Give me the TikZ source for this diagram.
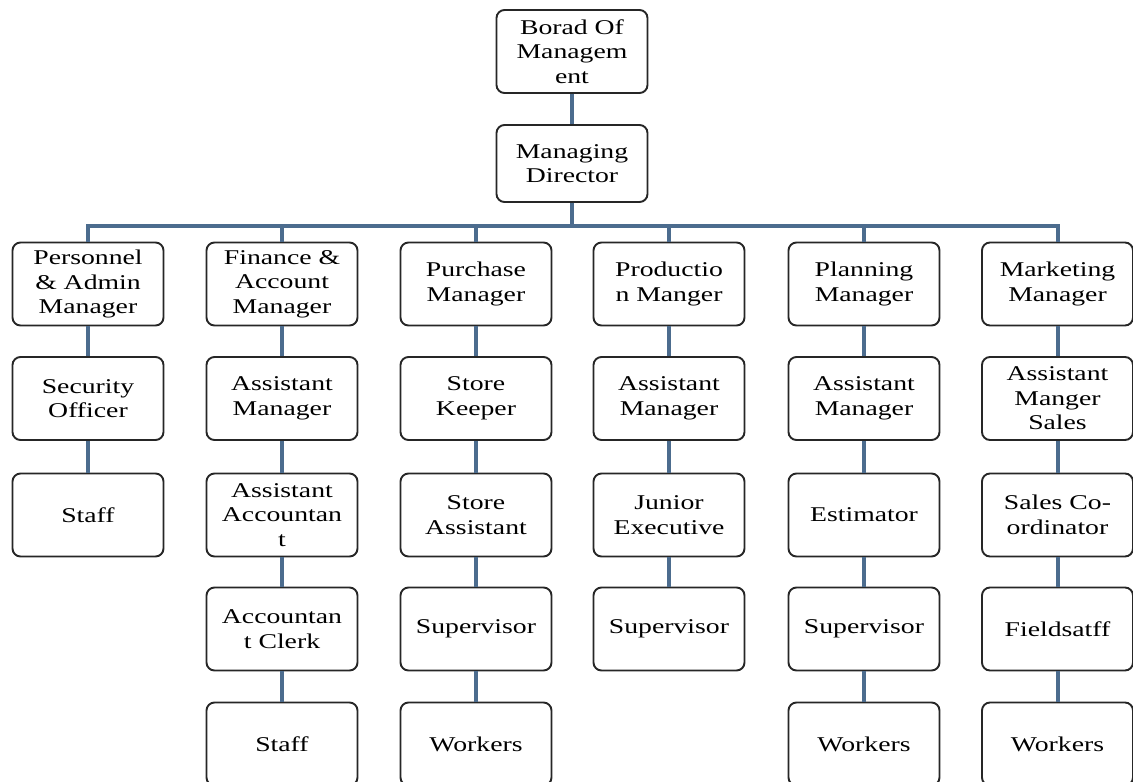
\documentclass[tikz,border=0pt]{standalone}
\usepackage{fontspec}
\setmainfont{Liberation Serif}[FakeStretch=1.32]
\usepackage{tikz}
\usetikzlibrary{positioning, calc}
\definecolor{linkblue}{RGB}{76, 108, 142}
\definecolor{boxline}{RGB}{38, 38, 38}

\begin{document}
\begin{tikzpicture}[x=1pt, y=-1pt,
  obox/.style={draw=boxline, fill=white, rounded corners=8pt, line width=1.9pt, minimum width=151pt, minimum height=83pt, align=center, inner sep=1pt, font=\fontsize{21}{24.5}\selectfont},
  link/.style={draw=linkblue, line width=4pt}
]
  \useasboundingbox (0,0) rectangle (1133,782);

  \node[obox] (bom) at (572, 51.5) {Borad Of\\Managem\\ent};
  \node[obox, minimum height=77pt] (md) at (572, 163.5) {Managing\\Director};

  % first row
  \node[obox] (pam) at (88, 284) {Personnel\\\& Admin\\Manager};
  \node[obox] (fam) at (282, 284) {Finance \&\\Account\\Manager};
  \node[obox] (pum) at (476, 284) {Purchase\\Manager};
  \node[obox] (prm) at (669, 284) {Productio\\n Manger};
  \node[obox] (plm) at (864, 284) {Planning\\Manager};
  \node[obox] (mkm) at (1057.5, 284) {Marketing\\Manager};

  % second row
  \node[obox] (secof) at (88, 398.5) {Security\\Officer};
  \node[obox] (faam) at (282, 398.5) {Assistant\\Manager};
  \node[obox] (stk) at (476, 398.5) {Store\\Keeper};
  \node[obox] (pram) at (669, 398.5) {Assistant\\Manager};
  \node[obox] (plam) at (864, 398.5) {Assistant\\Manager};
  \node[obox] (mkam) at (1057.5, 398.5) {Assistant\\Manger\\Sales};

  % third row
  \node[obox] (pastaff) at (88, 515) {Staff};
  \node[obox] (asac) at (282, 515) {Assistant\\Accountan\\t};
  \node[obox] (sta) at (476, 515) {Store\\Assistant};
  \node[obox] (jex) at (669, 515) {Junior\\Executive};
  \node[obox] (est) at (864, 515) {Estimator};
  \node[obox] (sco) at (1057.5, 515) {Sales Co-\\ordinator};

  % fourth row
  \node[obox] (acc) at (282, 629) {Accountan\\t Clerk};
  \node[obox] (pusup) at (476, 629) {Supervisor};
  \node[obox] (prsup) at (669, 629) {Supervisor};
  \node[obox] (plsup) at (864, 629) {Supervisor};
  \node[obox] (fld) at (1057.5, 629) {Fieldsatff};

  % fifth row
  \node[obox] (fastaff) at (282, 744) {Staff};
  \node[obox] (puwk) at (476, 744) {Workers};
  \node[obox] (plwk) at (864, 744) {Workers};
  \node[obox] (mkwk) at (1057.5, 744) {Workers};

  \draw[link] (bom) -- (md);
  \draw[link] (md.south) -- ++(0,23) -| (pam.north);
  \draw[link] (md.south) -- ++(0,23) -| (fam.north);
  \draw[link] (md.south) -- ++(0,23) -| (pum.north);
  \draw[link] (md.south) -- ++(0,23) -| (prm.north);
  \draw[link] (md.south) -- ++(0,23) -| (plm.north);
  \draw[link] (md.south) -- ++(0,23) -| (mkm.north);

  \draw[link] (pam) -- (secof);
  \draw[link] (secof) -- (pastaff);
  \draw[link] (fam) -- (faam);
  \draw[link] (faam) -- (asac);
  \draw[link] (asac) -- (acc);
  \draw[link] (acc) -- (fastaff);
  \draw[link] (pum) -- (stk);
  \draw[link] (stk) -- (sta);
  \draw[link] (sta) -- (pusup);
  \draw[link] (pusup) -- (puwk);
  \draw[link] (prm) -- (pram);
  \draw[link] (pram) -- (jex);
  \draw[link] (jex) -- (prsup);
  \draw[link] (plm) -- (plam);
  \draw[link] (plam) -- (est);
  \draw[link] (est) -- (plsup);
  \draw[link] (plsup) -- (plwk);
  \draw[link] (mkm) -- (mkam);
  \draw[link] (mkam) -- (sco);
  \draw[link] (sco) -- (fld);
  \draw[link] (fld) -- (mkwk);
\end{tikzpicture}
\end{document}
